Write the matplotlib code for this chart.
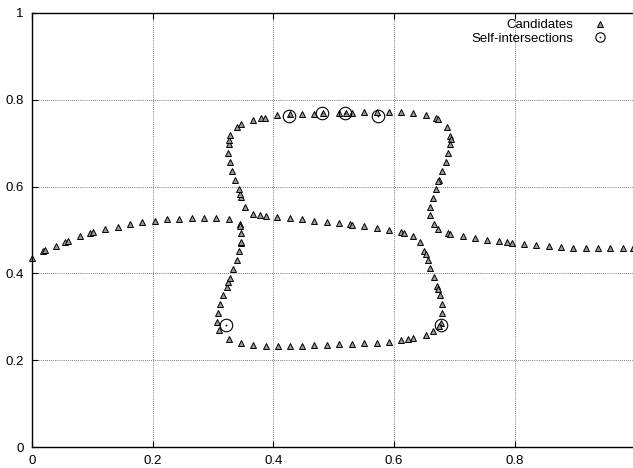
import numpy as np
import matplotlib.pyplot as plt
from matplotlib.path import Path
from matplotlib.ticker import FuncFormatter, MultipleLocator

plt.rcParams['font.family'] = ['Liberation Sans', 'DejaVu Sans']

# candidate points
cand_x = [0.000, 0.019, 0.0215, 0.039, 0.054, 0.060, 0.080, 0.096, 0.1005, 0.121,
          0.142, 0.162, 0.183, 0.203, 0.224, 0.244, 0.265, 0.285, 0.305, 0.326,
          0.3446, 0.3446, 0.353, 0.366, 0.377, 0.387, 0.406, 0.427, 0.448, 0.468,
          0.489, 0.509, 0.526, 0.530, 0.550, 0.571, 0.591, 0.611, 0.616, 0.632,
          0.643, 0.649, 0.652, 0.6555, 0.660, 0.666, 0.671, 0.6726, 0.676, 0.679,
          0.680, 0.677, 0.675, 0.665, 0.652, 0.632, 0.623, 0.612, 0.591, 0.571,
          0.550, 0.530, 0.509, 0.489, 0.468, 0.448, 0.427, 0.407, 0.387, 0.366,
          0.346, 0.326, 0.310, 0.307, 0.3076, 0.3115, 0.316, 0.3225, 0.3247, 0.3285,
          0.3335, 0.339, 0.3435, 0.3457, 0.3468, 0.3468, 0.347, 0.345, 0.343, 0.337,
          0.332, 0.3285, 0.325, 0.326, 0.327, 0.3285, 0.340, 0.346, 0.366, 0.380,
          0.386, 0.406, 0.427, 0.448, 0.468, 0.482, 0.509, 0.520, 0.530, 0.550,
          0.571, 0.591, 0.611, 0.632, 0.652, 0.670, 0.673, 0.688, 0.6925, 0.694,
          0.6925, 0.690, 0.686, 0.680, 0.674, 0.673, 0.669, 0.664, 0.660, 0.6594,
          0.6655, 0.672, 0.689, 0.6925, 0.714, 0.7345, 0.754, 0.774, 0.787, 0.795,
          0.815, 0.835, 0.856, 0.876, 0.897, 0.917, 0.938, 0.958, 0.9786, 0.996]
cand_y = [0.436, 0.452, 0.454, 0.464, 0.472, 0.475, 0.487, 0.494, 0.495, 0.502,
          0.508, 0.514, 0.518, 0.521, 0.525, 0.526, 0.528, 0.528, 0.528, 0.526,
          0.513, 0.509, 0.554, 0.537, 0.534, 0.532, 0.531, 0.527, 0.525, 0.521,
          0.518, 0.515, 0.513, 0.512, 0.509, 0.505, 0.500, 0.495, 0.494, 0.486,
          0.472, 0.452, 0.444, 0.431, 0.412, 0.391, 0.371, 0.363, 0.350, 0.330,
          0.309, 0.286, 0.279, 0.268, 0.259, 0.252, 0.249, 0.2465, 0.243, 0.240,
          0.239, 0.237, 0.2366, 0.2357, 0.234, 0.2335, 0.2335, 0.2335, 0.2335, 0.2357,
          0.240, 0.248, 0.269, 0.289, 0.309, 0.329, 0.350, 0.369, 0.3795, 0.390,
          0.410, 0.431, 0.4516, 0.469, 0.473, 0.492, 0.575, 0.584, 0.594, 0.615,
          0.636, 0.657, 0.678, 0.698, 0.707, 0.718, 0.738, 0.744, 0.753, 0.759,
          0.759, 0.764, 0.767, 0.767, 0.768, 0.769, 0.770, 0.770, 0.770, 0.771,
          0.771, 0.772, 0.771, 0.769, 0.765, 0.759, 0.756, 0.738, 0.717, 0.709,
          0.698, 0.677, 0.657, 0.637, 0.616, 0.612, 0.594, 0.574, 0.553, 0.5346,
          0.514, 0.5016, 0.492, 0.4915, 0.486, 0.482, 0.478, 0.475, 0.472, 0.471,
          0.4685, 0.466, 0.463, 0.461, 0.4585, 0.458, 0.4585, 0.4585, 0.459, 0.4585]

# self-intersections
inter_x = [0.425, 0.481, 0.519, 0.574, 0.321, 0.678]
inter_y = [0.763, 0.769, 0.769, 0.763, 0.280, 0.280]

# open circle with a dot in the middle, gnuplot style
circ = Path.make_compound_path(Path.unit_circle(), Path.circle((0, 0), 0.06))

fig = plt.figure(figsize=(6.33, 4.68), dpi=100)
ax = fig.add_axes([32 / 633, 21 / 468, 600.6 / 633, 434 / 468])

ax.plot(cand_x, cand_y, ls='none', marker='^', ms=5, mfc='#9a9a9a', mec='black',
        mew=0.7, label='Candidates', clip_on=False)
ax.plot(inter_x, inter_y, ls='none', marker=circ, ms=9, mfc='none', mec='black',
        mew=0.8, label='Self-intersections')

ax.set_xlim(0, 0.995)
ax.set_ylim(0, 1)
ax.xaxis.set_major_locator(MultipleLocator(0.2))
ax.yaxis.set_major_locator(MultipleLocator(0.2))
fmt = FuncFormatter(lambda v, p: '%g' % round(v, 3))
ax.xaxis.set_major_formatter(fmt)
ax.yaxis.set_major_formatter(fmt)
ax.tick_params(direction='in', length=4, width=0.8, labelsize=9.5, top=True, right=False,
               pad=6, colors='black')
ax.tick_params(axis='y', pad=6)
ax.spines['right'].set_visible(False)
for s in ['left', 'top', 'bottom']:
    ax.spines[s].set_linewidth(1.0)
ax.grid(True, color='black', lw=0.5, ls=(0, (1, 2)))
ax.set_axisbelow(True)

ax.legend(loc='upper right', bbox_to_anchor=(608 / 633, 1 - 19 / 468),
          bbox_transform=fig.transFigure, frameon=False, markerfirst=False,
          fontsize=9.5, markerscale=0.75, handlelength=1.2, handletextpad=1.45,
          labelspacing=0.08, borderpad=0, borderaxespad=0)

fig.savefig('out.png', dpi=100)
